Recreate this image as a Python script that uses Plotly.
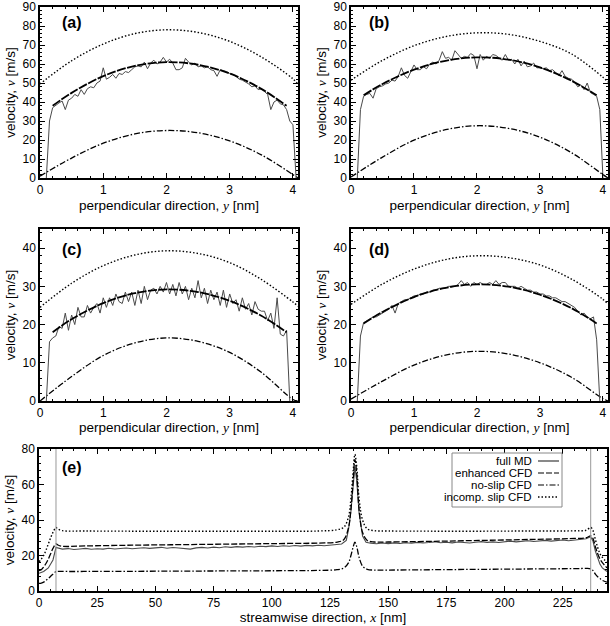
import numpy as np
import plotly.graph_objects as go

W, H = 610, 626

# ---- panels (a)-(d): velocity across the channel ----
y_full = [0, 0.5, 1.0, 1.5, 2.0, 2.5, 3.0, 3.5, 4.0, 4.08]
y_enh = [0.2, 0.5, 1.0, 1.5, 2.0, 2.5, 3.0, 3.5, 3.9]

incomp_a = [49.5, 61.7, 70.5, 76, 78, 76.6, 71.9, 63.7, 52.2, 49.3]
noslip_a = [1.0, 10.5, 18.3, 23.2, 25, 23.8, 19.5, 12.2, 1.8, 0]
enh_a = [38, 44.8, 53.6, 59, 61, 59.6, 55, 46.9, 38]
md_a = [0, 30, 37, 38.5, 39.5, 40.5, 36, 41, 42, 44,
        43, 46.5, 44, 47, 48, 47.5, 50, 51, 58, 52,
        53, 54.5, 52.5, 55, 54.5, 56, 55.5, 57, 58.5, 59,
        58.5, 61, 57.5, 60.5, 62, 60, 61, 63.5, 61, 62.5,
        60.5, 57, 57, 58, 63, 61, 59.5, 60.5, 58.5, 59,
        58, 58.5, 57, 56.5, 53.5, 57, 56.5, 56, 55, 54.5,
        53.5, 52, 51.5, 50.5, 49.5, 48, 48.5, 46.5, 47, 45.5,
        44, 36, 40, 41, 39, 38.5, 36, 30, 28, 0]

incomp_b = [51.5, 61.9, 69.6, 74.4, 76.4, 75.6, 71.9, 65.3, 53, 50.5]
noslip_b = [0.5, 11, 19.9, 25.4, 27.5, 26.1, 21.5, 13.3, 1.8, 0]
enh_b = [43.5, 49.5, 57, 61.7, 63.5, 62.3, 58.2, 51.2, 43.5]
md_b = [0, 36, 43, 44, 44.5, 42, 47, 48, 48.5, 49.5,
        50, 51.5, 51, 53.5, 58, 54, 52.5, 56, 59.5, 57,
        57, 58.5, 57.5, 60, 61, 60, 62, 66.5, 63, 63.5,
        62, 67, 65, 63, 64, 63.5, 65.5, 64.5, 57.5, 65,
        62, 64, 63, 65, 64.5, 63, 62, 65, 62, 62.5,
        60, 62.5, 59, 61.5, 58.5, 59, 60.5, 58, 58, 57.5,
        58, 56.5, 57, 55.5, 54, 56.5, 53.5, 52.5, 52, 50.5,
        48, 49, 46.5, 50, 45, 44, 43, 36, 0]

incomp_c = [24.5, 30.8, 35.4, 38.2, 39.3, 38.6, 36.2, 31.8, 25.9, 24.8]
noslip_c = [0, 6.4, 11.9, 15.2, 16.5, 15.6, 12.7, 7.5, 0.4, 0]
enh_c = [18, 21.4, 25.6, 28.2, 29.2, 28.5, 26.2, 22.3, 18]
md_c = [0, 15.5, 16.5, 17, 19.5, 19, 23, 18.5, 22.5, 20,
        24.5, 22, 22, 25, 23, 24.5, 25.5, 23, 27, 24.5,
        27, 25, 28, 26, 25.5, 28.5, 26, 28.5, 25, 29,
        25.5, 30, 26.5, 29, 29.5, 28, 30, 28.5, 31, 28,
        30.5, 27.5, 31, 28, 30, 26.5, 29.5, 27, 31.5, 27,
        29.5, 25.5, 29, 26.5, 28.5, 25, 29, 24.5, 28, 25.5,
        26.5, 23.5, 27, 24, 25.5, 22.5, 26, 24, 23.5, 23.5,
        21, 23, 19, 27, 17.5, 17, 18.5, 0]

incomp_d = [25.3, 30.6, 34.5, 37, 38, 37.5, 35.6, 31.9, 26.6, 25.3]
noslip_d = [0.5, 5.2, 9.4, 12, 13, 12.3, 10, 6.2, 0.6, 0]
enh_d = [20.3, 23.3, 27.2, 29.6, 30.5, 29.9, 27.8, 24.3, 20.3]
md_d = [0, 17, 20.5, 21, 21.5, 22, 22, 22.5, 23, 23.5,
        24, 25, 23, 25.5, 26, 26.5, 26.5, 27, 27.5, 27.5,
        28, 28, 28.5, 28.5, 29, 29, 29.5, 29.5, 29.5, 30,
        30, 30, 30.5, 31.5, 30.5, 31, 30, 31, 30.5, 31,
        30.5, 30.5, 31, 30.5, 31.5, 30.5, 31, 31, 30, 30,
        30, 29.5, 30, 29.5, 29, 29, 28.5, 28.5, 28, 28,
        27.5, 27.5, 27, 27, 26.5, 26, 26, 25.5, 25, 24.5,
        23.5, 22.5, 23, 22, 21.5, 22, 16, 0]

# ---- panel (e): velocity along the channel ----
x_cfd = [0, 1, 2, 3, 4, 5, 6, 7.3, 8, 10, 20, 40, 60, 80, 100, 120, 128, 131,
         133, 134, 135, 135.7, 136.5, 137.5, 139, 141, 144, 150, 170, 190,
         210, 230, 235, 237, 238, 239, 240, 241, 242, 244]
incomp_e = [16.5, 18, 20, 23, 26.5, 30, 33, 35.8, 35, 34, 33.8, 33.7, 33.7,
            33.7, 33.7, 33.8, 34.5, 36, 42, 52, 68, 77, 70, 52, 40, 35, 34,
            33.8, 33.7, 33.7, 33.8, 33.9, 34.2, 35.8, 34, 29, 24.5, 21, 19, 16]
enh_e = [11.5, 12, 13.5, 15.5, 18, 21, 24, 26.5, 26, 25.2, 25.4, 25.8, 26.1,
         26.4, 26.7, 27, 27.5, 29, 36, 46, 63, 74, 66, 46, 33, 28.5, 27.6,
         27.6, 28, 28.5, 29, 29.6, 30, 31, 29.5, 25, 21, 18, 16, 13]
noslip_e = [4.3, 4.5, 5, 6, 7, 8.3, 9.5, 11, 11, 11, 11, 11.1, 11.2, 11.3,
            11.4, 11.6, 12, 13, 16, 20, 25, 27.5, 25, 19, 14, 12.2, 11.8,
            11.8, 12, 12.2, 12.4, 12.6, 12.7, 12.5, 11.5, 9.5, 8, 7, 6, 5]

x_md_left = [0, 2, 4, 6, 7.3, 8.5]
md_e_left = [10, 11, 13, 17.5, 24.5, 24]
md_e_flat1 = [23.6, 23.9, 23.4, 23.7, 24.0, 23.5, 23.8, 23.6, 24.1, 23.7,
              23.9, 24.2, 23.8, 24.1, 24.4, 24.0, 24.3, 24.6, 24.1, 24.5,
              24.2, 24.0, 23.6, 24.3, 24.6, 24.2, 24.7, 24.4, 24.9, 24.6,
              25.0, 24.7, 25.1, 24.8, 25.2, 25.0, 25.4, 25.1, 25.5, 25.2,
              25.6, 25.3, 25.7, 25.4, 25.8, 25.5, 25.9, 26.0]
x_md_peak = [130, 132, 133, 134, 135, 135.7, 136.5, 137.5, 139, 140.5]
md_e_peak = [26.5, 28.5, 35, 45, 61, 70, 62, 44, 31, 27.5]
md_e_flat2 = [26.9, 26.6, 27.0, 26.7, 27.1, 26.8, 27.2, 26.9, 27.4, 27.0,
              27.3, 27.7, 27.2, 27.5, 27.1, 27.6, 27.3, 27.0, 27.5, 27.8,
              27.4, 27.7, 27.3, 27.8, 28.1, 27.7, 28.0, 28.3, 27.9, 28.2,
              28.5, 28.1, 28.4, 28.7, 28.3, 28.6, 29.0, 29.4]
x_md_right = [237, 238, 239, 240, 241, 242, 244]
md_e_right = [30.5, 28, 22.5, 18, 15, 13, 11]

wall_x = [7.3, 237]

legend_names = ["full MD", "enhanced CFD", "no-slip CFD", "incomp. slip CFD"]

# ---------------------------------------------------------------
FONT = "Liberation Sans, Arial, sans-serif"
DOT = "1.5px,2px"
DASH = "6px,2px"
DASH_THICK = "9px,1.5px"
DASHDOT = "6px,2px,1.5px,2px"
MD_COL = "#4a4a4a"

x_md_flat1 = np.arange(len(md_e_flat1)) * 2.5 + 10
x_md_flat2 = np.arange(len(md_e_flat2)) * 2.5 + 142.5
x_md_e = np.concatenate([x_md_left, x_md_flat1, x_md_peak, x_md_flat2, x_md_right])
md_e = md_e_left + md_e_flat1 + md_e_peak + md_e_flat2 + md_e_right

fig = go.Figure()

panels = [
    ("", incomp_a, noslip_a, enh_a, md_a),
    ("2", incomp_b, noslip_b, enh_b, md_b),
    ("3", incomp_c, noslip_c, enh_c, md_c),
    ("4", incomp_d, noslip_d, enh_d, md_d),
]
for k, inc, ns, en, md in panels:
    xa, ya = "x" + k, "y" + k
    y_md = 0.10 + 0.05 * np.arange(len(md))
    fig.add_trace(go.Scatter(x=y_full, y=inc, mode="lines", line_shape="spline",
                             line=dict(color="black", width=1.4, dash=DOT),
                             xaxis=xa, yaxis=ya, showlegend=False))
    fig.add_trace(go.Scatter(x=y_full, y=ns, mode="lines", line_shape="spline",
                             line=dict(color="black", width=1.3, dash=DASHDOT),
                             xaxis=xa, yaxis=ya, showlegend=False))
    fig.add_trace(go.Scatter(x=y_md, y=md, mode="lines",
                             line=dict(color=MD_COL, width=1),
                             xaxis=xa, yaxis=ya, showlegend=False))
    fig.add_trace(go.Scatter(x=y_enh, y=en, mode="lines", line_shape="spline",
                             line=dict(color="black", width=1.8, dash=DASH_THICK),
                             xaxis=xa, yaxis=ya, showlegend=False))

fig.add_trace(go.Scatter(x=x_cfd, y=incomp_e, mode="lines", line_shape="spline",
                         line=dict(color="black", width=1.4, dash=DOT),
                         xaxis="x5", yaxis="y5", showlegend=False))
fig.add_trace(go.Scatter(x=x_cfd, y=noslip_e, mode="lines", line_shape="spline",
                         line=dict(color="black", width=1.3, dash=DASHDOT),
                         xaxis="x5", yaxis="y5", showlegend=False))
fig.add_trace(go.Scatter(x=x_md_e, y=md_e, mode="lines",
                         line=dict(color=MD_COL, width=1.1),
                         xaxis="x5", yaxis="y5", showlegend=False))
fig.add_trace(go.Scatter(x=x_cfd, y=enh_e, mode="lines", line_shape="spline",
                         line=dict(color="black", width=1.3, dash=DASH),
                         xaxis="x5", yaxis="y5", showlegend=False))

for wx in wall_x:
    fig.add_shape(type="line", xref="x5", yref="y5 domain", x0=wx, x1=wx, y0=0, y1=1,
                  line=dict(color="#999999", width=1))


def axis(domain, rng, dtick, minor, anchor, title, standoff=4):
    return dict(domain=domain, range=rng, dtick=dtick, tick0=0, anchor=anchor,
                showline=True, linecolor="black", linewidth=1.5, mirror="ticks",
                ticks="inside", ticklen=5, tickwidth=1, tickcolor="black",
                minor=dict(ticks="inside", ticklen=2.5, dtick=minor, tickcolor="black", tickwidth=1),
                showgrid=False, zeroline=False, automargin=False,
                tickfont=dict(family=FONT, size=12, color="black"),
                title=dict(text=title, font=dict(family=FONT, size=13.5, color="black"),
                           standoff=standoff))


VAR = "<span style='font-family:Liberation Serif;font-style:italic'>%s</span>"
ytitle = "velocity, " + VAR % "v" + " [m/s]"
xtitle = "perpendicular direction, " + VAR % "y" + " [nm]"
etitle = "streamwise direction, " + VAR % "x" + " [nm]"

col_a = [40 / W, 298 / W]
col_b = [351 / W, 608 / W]
row1 = [1 - 178 / H, 1 - 7 / H]
row2 = [1 - 401 / H, 1 - 229 / H]

fig.update_layout(
    width=W, height=H, margin=dict(l=0, r=0, t=0, b=0),
    paper_bgcolor="white", plot_bgcolor="white",
    font=dict(family=FONT, color="black"),
    xaxis=axis(col_a, [0, 4.08], 1, 0.2, "y", xtitle),
    yaxis=axis(row1, [0, 90], 10, 2, "x", ytitle),
    xaxis2=axis(col_b, [0, 4.08], 1, 0.2, "y2", xtitle),
    yaxis2=axis(row1, [0, 90], 10, 2, "x2", ytitle),
    xaxis3=axis(col_a, [0, 4.08], 1, 0.2, "y3", xtitle, 1),
    yaxis3=axis(row2, [0, 45], 10, 2, "x3", ytitle),
    xaxis4=axis(col_b, [0, 4.08], 1, 0.2, "y4", xtitle, 1),
    yaxis4=axis(row2, [0, 45], 10, 2, "x4", ytitle),
    xaxis5=axis([39 / W, 607 / W], [0, 244], 25, 5, "y5", etitle, 1),
    yaxis5=axis([1 - 591 / H, 1 - 449 / H], [0, 80], 20, 4, "x5", ytitle),
)

# panel labels
for lab, lx, ly in [("(a)", 60, 23), ("(b)", 367, 23), ("(c)", 60, 249),
                    ("(d)", 367, 249), ("(e)", 60, 467)]:
    fig.add_annotation(text="<b>%s</b>" % lab, xref="paper", yref="paper",
                       x=lx / W, y=1 - ly / H, xanchor="left", yanchor="middle",
                       showarrow=False, font=dict(family=FONT, size=16, color="black"))

# legend box drawn to the right-hand-sample style of the original
fig.add_shape(type="rect", xref="paper", yref="paper",
              x0=452 / W, x1=562 / W, y0=1 - 507 / H, y1=1 - 453 / H,
              line=dict(color="#888888", width=1), fillcolor="white", layer="above")
styles = [(MD_COL, "solid", 1.3), ("black", DASH, 1.2), ("black", DASHDOT, 1.2), ("black", DOT, 1.3)]
for i, (name, (c, d, w)) in enumerate(zip(legend_names, styles)):
    yy = 1 - (461 + 12 * i) / H
    fig.add_annotation(text=name, xref="paper", yref="paper", x=534 / W, y=yy,
                       xanchor="right", yanchor="middle", showarrow=False,
                       font=dict(family=FONT, size=11.5, color="black"))
    fig.add_shape(type="line", xref="paper", yref="paper", x0=538 / W, x1=559 / W,
                  y0=yy, y1=yy, line=dict(color=c, width=w, dash=d), layer="above")

fig.write_html("out.html", config={"displayModeBar": False},
               post_script="document.body.style.margin='0';")
